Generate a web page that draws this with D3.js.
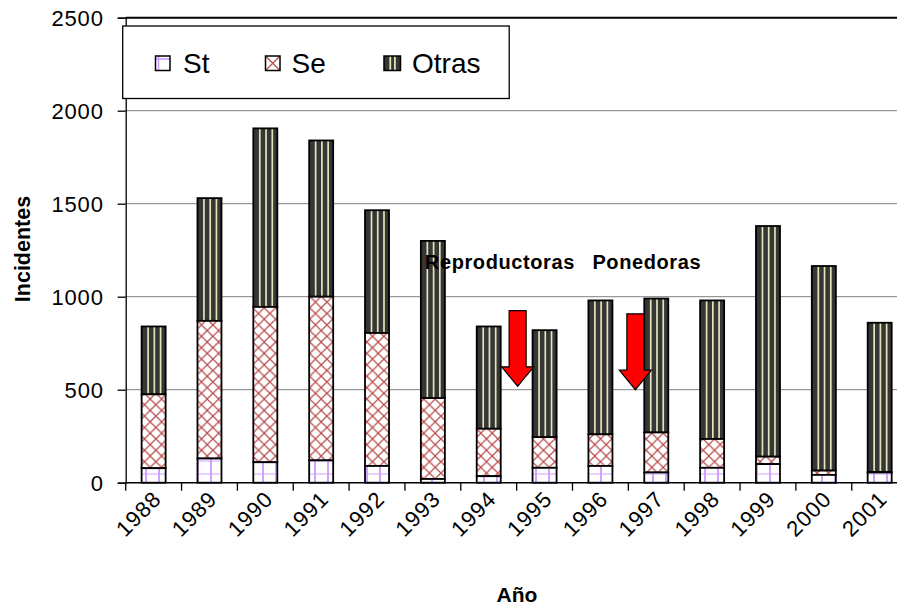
<!DOCTYPE html>
<html>
<head>
<meta charset="utf-8">
<script src="https://cdn.jsdelivr.net/npm/d3@7/dist/d3.min.js"></script>
<style>
  html, body { margin: 0; padding: 0; background: #fff; }
  svg { display: block; font-family: "Liberation Sans", Arial, sans-serif; }
</style>
</head>
<body>
<svg id="chart" width="897" height="609"></svg>
<script>
// ---- data ----
const years = ["1988","1989","1990","1991","1992","1993","1994","1995","1996","1997","1998","1999","2000","2001"];
const st    = [78, 130, 110, 120, 90, 20, 35, 80, 90, 55, 80, 100, 42, 55];
const se    = [397, 740, 835, 880, 715, 435, 255, 165, 170, 215, 155, 40, 23, 3];
const otras = [365, 660, 960, 840, 660, 845, 550, 575, 720, 720, 745, 1240, 1100, 802];
const seriesNames = ["St", "Se", "Otras"];
const yTicks = [0, 500, 1000, 1500, 2000, 2500];
const noteLabels = ["Reproductoras", "Ponedoras"];
const noteCats = ["1993", "1996"];
const noteValue = [1150, 1150];
const arrowCats = ["1995", "1997"];
const arrowTop = [925, 908];
const arrowTip = [518, 500];

// ---- layout ----
const svg = d3.select("#chart");
const plotLeft = 125.7, plotTop = 17.7, plotBottom = 482.7;
const stepPx = 55.85;
const plotRight = plotLeft + stepPx * years.length;

const x = d3.scaleBand().domain(years).range([plotLeft, plotRight])
  .paddingInner(0.57).paddingOuter(0.285);
const y = d3.scaleLinear().domain([0, 2500]).range([plotBottom, plotTop]);
const pad = (x.step() - x.bandwidth()) / 2;

// ---- patterns ----
const defs = svg.append("defs");
const pSt = defs.append("pattern").attr("id", "pSt").attr("patternUnits", "userSpaceOnUse")
  .attr("width", 13).attr("height", 13).attr("x", 2).attr("y", 473.5);
pSt.append("rect").attr("width", 13).attr("height", 13).attr("fill", "#fff");
pSt.append("line").attr("x1", 1).attr("x2", 1).attr("y1", 0).attr("y2", 13)
  .attr("stroke", "#cc99ff").attr("stroke-width", 1.8);
pSt.append("line").attr("x1", 0).attr("x2", 13).attr("y1", 0).attr("y2", 0)
  .attr("stroke", "#cc99ff").attr("stroke-width", 1.8);

const pSe = defs.append("pattern").attr("id", "pSe").attr("patternUnits", "userSpaceOnUse")
  .attr("width", 11.4).attr("height", 11.4).attr("x", 2).attr("y", 0);
pSe.append("rect").attr("width", 11.4).attr("height", 11.4).attr("fill", "#fff");
pSe.append("path").attr("d", "M0,0L11.4,11.4M11.4,0L0,11.4M-1,10.4L1,12.4M10.4,-1L12.4,1")
  .attr("stroke", "#b84a4a").attr("stroke-width", 1.2).attr("fill", "none");

// ---- gridlines ----
const g = svg.append("g");
g.selectAll("line.grid").data(yTicks.filter(d => d > 0 && d < 2500)).enter()
  .append("line").attr("class", "grid")
  .attr("x1", plotLeft).attr("x2", 897)
  .attr("y1", d => y(d)).attr("y2", d => y(d))
  .attr("stroke", "#808080").attr("stroke-width", 1);
g.append("line").attr("x1", plotLeft).attr("x2", 897).attr("y1", y(2500)).attr("y2", y(2500))
  .attr("stroke", "#000").attr("stroke-width", 2);

// ---- bars ----
const rows = years.map((yr, i) => ({ yr, st: st[i], se: se[i], ot: otras[i] }));
const bars = svg.append("g");
rows.forEach(r => {
  const x0 = x(r.yr), w = x.bandwidth();
  const s0 = 0, s1 = r.st, s2 = r.st + r.se, s3 = r.st + r.se + r.ot;
  bars.append("rect").attr("x", x0).attr("y", y(s3)).attr("width", w).attr("height", y(s2) - y(s3))
    .attr("fill", "#363636");
  [0.27, 0.53, 0.79].forEach(f => {
    bars.append("line").attr("x1", x0 + w * f).attr("x2", x0 + w * f)
      .attr("y1", y(s3)).attr("y2", y(s2))
      .attr("stroke", "#e4e4b8").attr("stroke-width", 1.7);
  });
  bars.append("rect").attr("x", x0).attr("y", y(s3)).attr("width", w).attr("height", y(s2) - y(s3))
    .attr("fill", "none").attr("stroke", "#000").attr("stroke-width", 1.8);
  bars.append("rect").attr("x", x0).attr("y", y(s2)).attr("width", w).attr("height", y(s1) - y(s2))
    .attr("fill", "url(#pSe)").attr("stroke", "#000").attr("stroke-width", 1.8);
  bars.append("rect").attr("x", x0).attr("y", y(s1)).attr("width", w).attr("height", y(s0) - y(s1))
    .attr("fill", "url(#pSt)").attr("stroke", "#000").attr("stroke-width", 1.8);
});

// ---- axes ----
const yAxis = d3.axisLeft(y).tickValues(yTicks).tickFormat(d3.format("d")).tickSize(8).tickPadding(14);
const ya = svg.append("g").attr("transform", `translate(${plotLeft},0)`).call(yAxis);
ya.select(".domain").attr("stroke", "#000").attr("stroke-width", 1.3);
ya.selectAll(".tick line").attr("stroke", "#000").attr("stroke-width", 1.3);
ya.selectAll(".tick text").attr("font-size", 22).attr("letter-spacing", "0.8px")
  .attr("fill", "#000").attr("font-family", "Liberation Sans, Arial, sans-serif").attr("dy", "0.34em");

svg.append("line").attr("x1", plotLeft).attr("x2", 897).attr("y1", plotBottom).attr("y2", plotBottom)
  .attr("stroke", "#000").attr("stroke-width", 1.5);
const bounds = years.map(yr => x(yr) - pad).concat([plotRight]);
svg.selectAll("line.xt").data(bounds).enter().append("line").attr("class", "xt")
  .attr("x1", d => d).attr("x2", d => d).attr("y1", plotBottom).attr("y2", plotBottom + 8)
  .attr("stroke", "#000").attr("stroke-width", 1.3);
svg.selectAll("text.xl").data(years).enter().append("text").attr("class", "xl")
  .attr("transform", d => `translate(${x(d) + x.bandwidth() / 2 + 9},500.5) rotate(-45)`)
  .attr("text-anchor", "end").attr("font-size", 22).attr("letter-spacing", "1px")
  .attr("fill", "#000").text(d => d);

svg.append("text").attr("x", 517).attr("y", 601.5).attr("text-anchor", "middle")
  .attr("font-size", 21).attr("font-weight", "bold").text("Año");
svg.append("text").attr("transform", "translate(29.5,249) rotate(-90)").attr("text-anchor", "middle")
  .attr("font-size", 21.5).attr("font-weight", "bold").text("Incidentes");

// ---- annotations ----
noteLabels.forEach((t, i) => {
  svg.append("text").attr("x", x(noteCats[i]) + 4).attr("y", y(noteValue[i]))
    .attr("font-size", 20).attr("font-weight", "bold").attr("letter-spacing", "0.6px").text(t);
});
const arrowDx = [1, 7];
arrowCats.forEach((c, i) => {
  const cx = x(c) - pad + arrowDx[i];
  const yt = y(arrowTop[i]), yp = y(arrowTip[i]);
  const headH = 19.5, sw = 8.5, hw = 16;
  const pts = [
    [cx - sw, yt], [cx + sw, yt], [cx + sw, yp - headH], [cx + hw, yp - headH],
    [cx, yp], [cx - hw, yp - headH], [cx - sw, yp - headH]
  ];
  svg.append("polygon").attr("points", pts.map(p => p.join(",")).join(" "))
    .attr("fill", "#ff0000").attr("stroke", "#000").attr("stroke-width", 1.2);
});

// ---- legend ----
const lg = svg.append("g");
lg.append("rect").attr("x", 122.7).attr("y", 26).attr("width", 386.5).attr("height", 72.5)
  .attr("fill", "#fff").attr("stroke", "#000").attr("stroke-width", 1.3);
const legX = [155.5, 265.5, 384];
const txtX = [183, 291.5, 412];
seriesNames.forEach((n, i) => {
  const lx = legX[i], ly = 56, s = 14.5;
  if (i === 0) {
    lg.append("rect").attr("x", lx).attr("y", ly).attr("width", s).attr("height", s).attr("fill", "#fff");
    lg.append("line").attr("x1", lx + 3).attr("x2", lx + 3).attr("y1", ly).attr("y2", ly + s).attr("stroke", "#cc99ff").attr("stroke-width", 1.6);
    lg.append("line").attr("x1", lx).attr("x2", lx + s).attr("y1", ly + 3).attr("y2", ly + 3).attr("stroke", "#cc99ff").attr("stroke-width", 1.6);
  } else if (i === 1) {
    lg.append("rect").attr("x", lx).attr("y", ly).attr("width", s).attr("height", s).attr("fill", "#fff");
    lg.append("path").attr("d", `M${lx},${ly}L${lx + s},${ly + s}M${lx + s},${ly}L${lx},${ly + s}`)
      .attr("stroke", "#b84a4a").attr("stroke-width", 1.2);
  } else {
    lg.append("rect").attr("x", lx).attr("y", ly).attr("width", s + 2).attr("height", s).attr("fill", "#363636");
    [0.38, 0.66].forEach(f => lg.append("line").attr("x1", lx + (s + 2) * f).attr("x2", lx + (s + 2) * f)
      .attr("y1", ly).attr("y2", ly + s).attr("stroke", "#e4e4b8").attr("stroke-width", 1.8));
  }
  lg.append("rect").attr("x", lx).attr("y", ly).attr("width", i === 2 ? s + 2 : s).attr("height", s)
    .attr("fill", "none").attr("stroke", "#000").attr("stroke-width", 1.5);
  lg.append("text").attr("x", txtX[i]).attr("y", 72.7).attr("font-size", 28).attr("fill", "#000").text(n);
});
</script>
</body>
</html>
